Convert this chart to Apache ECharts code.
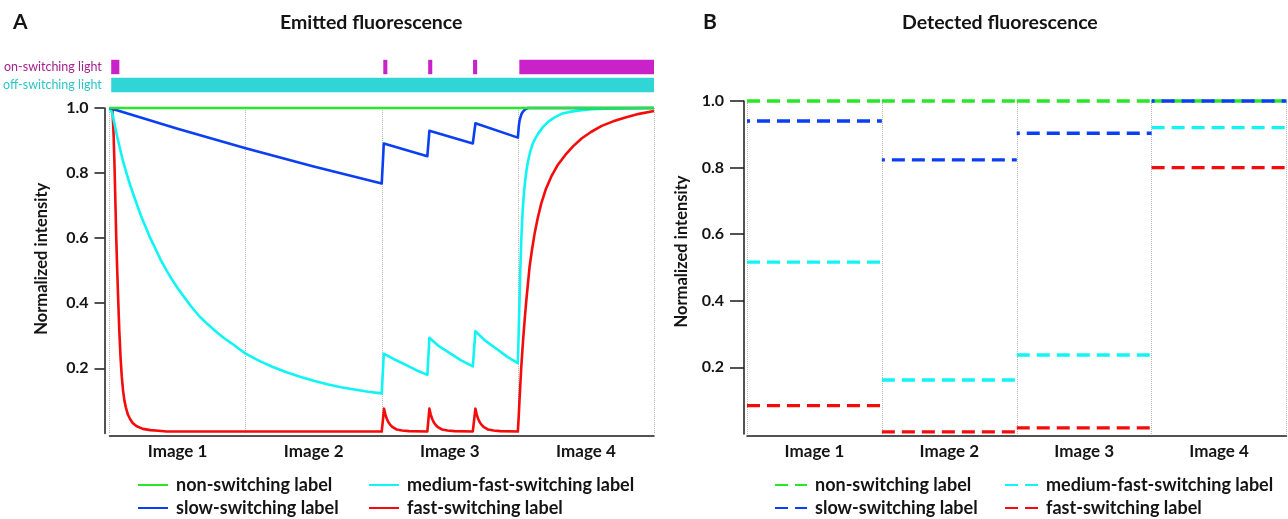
<!DOCTYPE html>
<html>
<head>
<meta charset="utf-8">
<title>Emitted and detected fluorescence</title>
<script src="https://cdn.jsdelivr.net/npm/echarts@6.0.0/dist/echarts.min.js"></script>
<style>
  html, body { margin: 0; padding: 0; background: #fff; }
  #chart { width: 1288px; height: 519px; }
</style>
</head>
<body>
<div id="chart"></div>
<script>
// categories and names
const imageLabels = ['Image 1', 'Image 2', 'Image 3', 'Image 4'];
const lightRows = ['on-switching light', 'off-switching light'];
const labelNames = ['non-switching label', 'slow-switching label', 'medium-fast-switching label', 'fast-switching label'];
const labelColors = ['#28e628', '#0a3ff2', '#10f4f4', '#f40c0c'];

// illumination periods, in image units [start, end]
const onSwitchingLight = [[0.01, 0.07], [2.01, 2.04], [2.34, 2.37], [2.67, 2.70], [3.01, 4.0]];
const offSwitchingLight = [[0.01, 4.0]];

// emitted fluorescence: [time (image units), normalized intensity]
const emittedNon = [[0, 1], [4, 1]];
const emittedSlow = [
  [0, 1], [0.5, 0.936], [1, 0.876], [1.5, 0.82], [2, 0.768],
  [2.015, 0.891], [2.335, 0.852], [2.35, 0.93], [2.669, 0.891], [2.688, 0.953],
  [3.0, 0.909], [3.007, 0.945], [3.013, 0.963], [3.025, 0.98], [3.037, 0.989],
  [3.055, 0.996], [3.074, 1.0], [4, 1.0]
];
const emittedMedium = [
  [0, 1], [0.02, 0.985], [0.04, 0.945], [0.06, 0.905], [0.08, 0.87], [0.1, 0.835],
  [0.125, 0.8], [0.15, 0.765], [0.175, 0.735], [0.2, 0.705], [0.23, 0.67], [0.26, 0.64],
  [0.3, 0.6], [0.34, 0.565], [0.38, 0.53], [0.42, 0.5], [0.46, 0.472], [0.5, 0.447],
  [0.55, 0.418], [0.6, 0.39], [0.66, 0.36], [0.72, 0.336], [0.79, 0.31], [0.85, 0.29],
  [0.9, 0.276], [0.95, 0.26], [1.0, 0.245], [1.1, 0.223], [1.2, 0.204], [1.3, 0.188],
  [1.4, 0.174], [1.5, 0.162], [1.6, 0.151], [1.7, 0.142], [1.8, 0.135], [1.9, 0.128],
  [2.0, 0.123],
  [2.015, 0.245], [2.09, 0.228], [2.17, 0.212], [2.25, 0.195], [2.335, 0.18],
  [2.35, 0.294], [2.42, 0.268], [2.5, 0.247], [2.58, 0.225], [2.669, 0.206],
  [2.688, 0.314], [2.76, 0.285], [2.85, 0.258], [2.92, 0.236], [3.0, 0.216],
  [3.006, 0.31], [3.012, 0.409], [3.018, 0.505], [3.025, 0.594], [3.031, 0.65],
  [3.037, 0.696], [3.045, 0.74], [3.054, 0.778], [3.064, 0.81], [3.074, 0.835],
  [3.09, 0.865], [3.11, 0.891], [3.13, 0.908], [3.15, 0.922], [3.185, 0.942],
  [3.224, 0.958], [3.27, 0.971], [3.32, 0.982], [3.38, 0.988], [3.44, 0.992],
  [3.54, 0.996], [3.64, 0.998], [4, 1.0]
];
const emittedFast = [
  [0, 1], [0.022, 0.995], [0.03, 0.92], [0.037, 0.82], [0.043, 0.715], [0.049, 0.61],
  [0.056, 0.51], [0.064, 0.41], [0.072, 0.315], [0.081, 0.235], [0.09, 0.175], [0.1, 0.13],
  [0.11, 0.1], [0.12, 0.08], [0.135, 0.058], [0.15, 0.045], [0.17, 0.032], [0.2, 0.022],
  [0.245, 0.014], [0.3, 0.01], [0.36, 0.008], [0.42, 0.006], [2.0, 0.006],
  [2.017, 0.076], [2.027, 0.058], [2.037, 0.045], [2.048, 0.035], [2.061, 0.027],
  [2.08, 0.019], [2.11, 0.012], [2.15, 0.009], [2.2, 0.007], [2.335, 0.006],
  [2.35, 0.076], [2.36, 0.058], [2.37, 0.045], [2.381, 0.035], [2.394, 0.027],
  [2.413, 0.019], [2.443, 0.012], [2.483, 0.009], [2.533, 0.007], [2.669, 0.006],
  [2.688, 0.076], [2.698, 0.058], [2.708, 0.045], [2.719, 0.035], [2.732, 0.027],
  [2.751, 0.019], [2.781, 0.012], [2.821, 0.009], [2.871, 0.007], [3.0, 0.006],
  [3.006, 0.05], [3.012, 0.102], [3.018, 0.15], [3.025, 0.204], [3.033, 0.255],
  [3.042, 0.307], [3.052, 0.36], [3.062, 0.409], [3.074, 0.46], [3.086, 0.512],
  [3.104, 0.565], [3.123, 0.614], [3.146, 0.662], [3.172, 0.707], [3.205, 0.75],
  [3.245, 0.789], [3.29, 0.823], [3.347, 0.855], [3.405, 0.882], [3.47, 0.907],
  [3.54, 0.927], [3.616, 0.945], [3.7, 0.959], [3.79, 0.971], [3.89, 0.982],
  [4.0, 0.991]
];

// detected fluorescence: mean per image
const detectedNon = [1.0, 1.0, 1.0, 1.0];
const detectedSlow = [0.94, 0.823, 0.903, 1.0];
const detectedMedium = [0.516, 0.162, 0.237, 0.92];
const detectedFast = [0.085, 0.006, 0.018, 0.8];

// y tick labels
const intensityTicks = { min: 0, max: 1, interval: 0.2 };

const fontFamily = 'Lato, "Noto Sans", sans-serif';
const ink = '#141414';
const axisStroke = { color: '#1a1a1a', width: 1.5 };

// one flat dashed segment per image, broken between images
function toSegments(values) {
  const pts = [];
  values.forEach((v, i) => {
    if (i > 0) pts.push([i, '-']);
    pts.push([i, v], [i + 1, v]);
  });
  return pts;
}

function renderInterval(params, api) {
  const start = api.coord([api.value(0), api.value(2)]);
  const end = api.coord([api.value(1), api.value(2)]);
  const h = api.size([0, 1])[1] * 0.8;
  return {
    type: 'rect',
    shape: { x: start[0], y: start[1] - h / 2, width: end[0] - start[0], height: h },
    style: { fill: api.visual('color') }
  };
}

function intensityAxis(gridIndex, offset, tickLen, margin, namePad) {
  return {
    gridIndex, type: 'value', ...intensityTicks, offset,
    name: 'Normalized intensity', nameLocation: 'middle', nameGap: 54,
    nameTextStyle: { fontFamily, fontSize: 16.5, fontWeight: 'bold', color: ink, padding: [0, 0, 0, namePad] },
    axisLine: { show: true, onZero: false, lineStyle: axisStroke },
    axisTick: { show: true, length: tickLen, lineStyle: axisStroke },
    axisLabel: {
      margin, fontFamily, fontSize: 16, fontWeight: 'bold', color: ink,
      showMinLabel: false, formatter: (v) => v.toFixed(1)
    },
    splitLine: { show: false }
  };
}

function imageAxis(gridIndex, offset, tickLen) {
  return {
    gridIndex, type: 'category', data: imageLabels, position: 'bottom', offset, boundaryGap: true,
    axisLine: { onZero: false, lineStyle: axisStroke },
    axisTick: { length: tickLen, lineStyle: axisStroke },
    axisLabel: { margin: 7, fontFamily, fontSize: 17, fontWeight: 'bold', color: ink },
    splitLine: { show: true, lineStyle: { type: 'dotted', color: '#b4b4b4', width: 1 } }
  };
}

function timeAxis(gridIndex) {
  return { gridIndex, type: 'value', min: 0, max: 4, position: 'top', show: false };
}

function legendColumn(left, names, width) {
  return {
    left, top: 475, orient: 'vertical', padding: 0, itemWidth: width, itemHeight: 12, itemGap: 3,
    selectedMode: false,
    data: names.map((name) => ({ name, lineStyle: { dashOffset: 0 } })),
    itemStyle: { color: 'rgba(0,0,0,0)', borderWidth: 0, opacity: 0 },
    formatter: (n) => n.replace(/^B /, ''),
    textStyle: { fontFamily, fontSize: 18, lineHeight: 20, fontWeight: 'bold', color: ink, padding: [0, 0, 0, 3] }
  };
}

const emitted = [emittedNon, emittedSlow, emittedMedium, emittedFast];
const detected = [detectedNon, detectedSlow, detectedMedium, detectedFast];

const emittedSeries = labelNames.map((name, i) => ({
  type: 'line', name, xAxisIndex: 1, yAxisIndex: 1,
  data: emitted[i], symbol: 'none', clip: false, z: 10 - i,
  lineStyle: { color: labelColors[i], width: 2.6, join: 'round' }, itemStyle: { color: labelColors[i] }
}));

const detectedSeries = labelNames.map((name, i) => ({
  type: 'line', name: 'B ' + name, xAxisIndex: 3, yAxisIndex: 2,
  data: toSegments(detected[i]), symbol: 'none', clip: false, z: 5 + i,
  lineStyle: { color: labelColors[i], width: 3.4, type: [13, 7], dashOffset: i === 1 ? 10 : 0 },
  itemStyle: { color: labelColors[i] }
}));

const chart = echarts.init(document.getElementById('chart'), null, { renderer: 'canvas' });
chart.setOption({
  animation: false,
  backgroundColor: '#fff',
  textStyle: { fontFamily },
  title: [
    { text: 'A', left: 8, top: 7, textStyle: { fontFamily, fontSize: 21, fontWeight: 'bold', color: ink } },
    { text: 'Emitted fluorescence', left: 275, top: 8, textStyle: { fontFamily, fontSize: 19.5, fontWeight: 'bold', color: ink } },
    { text: 'B', left: 698, top: 7, textStyle: { fontFamily, fontSize: 21, fontWeight: 'bold', color: ink } },
    { text: 'Detected fluorescence', left: 897, top: 8, textStyle: { fontFamily, fontSize: 19.5, fontWeight: 'bold', color: ink } }
  ],
  grid: [
    { left: 109.5, right: 634, top: 58, height: 36 },
    { left: 109.5, right: 634, top: 108, bottom: 85.6 },
    { left: 747, right: 1.5, top: 101, bottom: 85.1 }
  ],
  xAxis: [
    timeAxis(0),
    timeAxis(1),
    imageAxis(1, 2.5, 13),
    timeAxis(2),
    imageAxis(2, 2, 12)
  ],
  yAxis: [
    {
      gridIndex: 0, type: 'category', data: lightRows, inverse: true,
      axisLine: { show: false }, axisTick: { show: false },
      axisLabel: {
        margin: 8, fontFamily, fontSize: 12.5,
        color: (value, index) => (index === 0 ? '#a4228f' : '#2cc6c6')
      }
    },
    intensityAxis(1, 5, 10, 16, 24),
    intensityAxis(2, 3, 14, 20, 32)
  ],
  legend: [
    legendColumn(137, [labelNames[0], labelNames[1]], 30),
    legendColumn(368, [labelNames[2], labelNames[3]], 30),
    legendColumn(774, ['B ' + labelNames[0], 'B ' + labelNames[1]], 32),
    legendColumn(1004, ['B ' + labelNames[2], 'B ' + labelNames[3]], 33)
  ],
  series: [
    {
      type: 'custom', name: 'on-switching', xAxisIndex: 0, yAxisIndex: 0,
      renderItem: renderInterval, itemStyle: { color: '#c822c8' },
      encode: { x: [0, 1], y: 2 },
      data: onSwitchingLight.map((p) => [p[0], p[1], 0])
    },
    {
      type: 'custom', name: 'off-switching', xAxisIndex: 0, yAxisIndex: 0,
      renderItem: renderInterval, itemStyle: { color: '#30d6d6' },
      encode: { x: [0, 1], y: 2 },
      data: offSwitchingLight.map((p) => [p[0], p[1], 1])
    },
    ...emittedSeries,
    ...detectedSeries
  ]
});
</script>
</body>
</html>
